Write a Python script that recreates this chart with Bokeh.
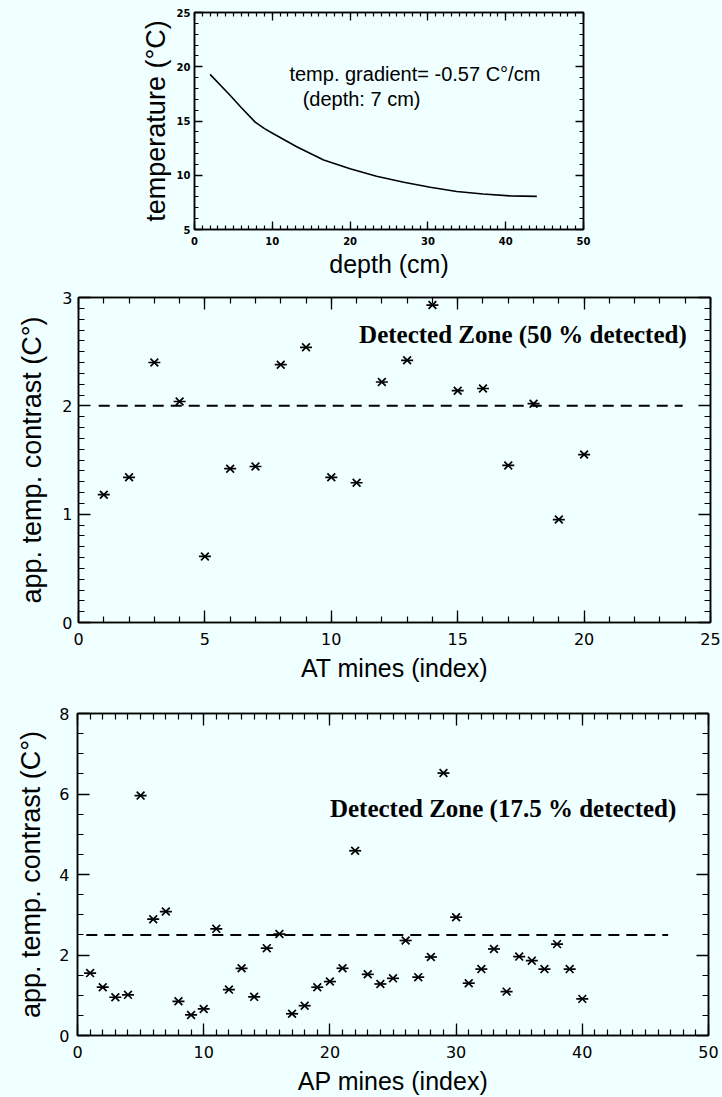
from bokeh.plotting import figure
from bokeh.models import Range1d, LinearAxis, SingleIntervalTicker, CustomJSTickFormatter
from bokeh.core.properties import value
from bokeh.embed import file_html
from bokeh.resources import INLINE

# ---------------- data ----------------
depth_cm = [2.0, 4.6, 6.0, 7.8, 9.0, 10.2, 13.2, 16.6, 20.0, 23.4, 26.9, 30.3, 33.7, 37.1, 40.6, 44.0]
temperature_c = [19.3, 17.35, 16.25, 14.9, 14.3, 13.8, 12.6, 11.4, 10.6, 9.9, 9.35, 8.9, 8.5, 8.27, 8.1, 8.05]

at_index = list(range(1, 21))
at_contrast = [1.18, 1.34, 2.40, 2.04, 0.61, 1.42, 1.44, 2.38, 2.54, 1.34,
               1.29, 2.22, 2.42, 2.93, 2.14, 2.16, 1.45, 2.02, 0.95, 1.55]
at_threshold_x = [0.8, 23.9]
at_threshold_y = [2.0, 2.0]

ap_index = list(range(1, 41))
ap_contrast = [1.55, 1.20, 0.95, 1.01, 5.96, 2.89, 3.08, 0.85, 0.51, 0.66,
               2.65, 1.14, 1.67, 0.96, 2.17, 2.52, 0.54, 0.74, 1.20, 1.34,
               1.67, 4.59, 1.52, 1.28, 1.42, 2.36, 1.45, 1.95, 6.52, 2.94,
               1.30, 1.65, 2.15, 1.09, 1.96, 1.86, 1.65, 2.27, 1.65, 0.91]
ap_threshold_x = [0.7, 46.8]
ap_threshold_y = [2.5, 2.5]

top_note = ["temp. gradient= -0.57 C\u00b0/cm", "(depth: 7 cm)"]
at_note = "Detected Zone (50 % detected)"
ap_note = "Detected Zone (17.5 % detected)"

BG = "#F0FFFF"
SANS = "Liberation Sans"
TICKFONT = "DejaVu Sans"
SERIF = "Liberation Serif"


def make_fig(xr, yr, xint, xminor, yint, yminor, frame_w, frame_h,
             left, right, top, bottom, xlabel, ylabel,
             tick_font_size, tick_bold, xlab_size, ylab_size,
             x_std, x_lab_std, y_std, y_lab_std, major_len, minor_len):
    p = figure(width=frame_w + left + right, height=frame_h + top + bottom,
               x_range=Range1d(*xr), y_range=Range1d(*yr),
               output_backend="svg", toolbar_location=None,
               x_axis_location=None, y_axis_location=None,
               min_border_left=left, min_border_right=right,
               min_border_top=top, min_border_bottom=bottom,
               background_fill_color=BG, border_fill_color=BG)
    p.grid.visible = False
    p.outline_line_color = "black"
    p.outline_line_width = 1.5
    for loc, is_x in (("below", True), ("above", True), ("left", False), ("right", False)):
        tk = SingleIntervalTicker(interval=xint if is_x else yint,
                                  num_minor_ticks=xminor if is_x else yminor)
        ax = LinearAxis(ticker=tk)
        ax.axis_line_color = "black"
        ax.axis_line_width = 1.5
        ax.major_tick_line_color = "black"
        ax.minor_tick_line_color = "black"
        ax.major_tick_line_width = 1.3
        ax.minor_tick_line_width = 1.2
        ax.major_tick_in = major_len
        ax.major_tick_out = 0
        ax.minor_tick_in = minor_len
        ax.minor_tick_out = 0
        if loc in ("below", "left"):
            ax.major_label_text_font = TICKFONT
            ax.major_label_text_font_size = f"{tick_font_size}px"
            ax.major_label_text_font_style = "bold" if tick_bold else "normal"
            ax.major_label_text_color = "black"
            ax.axis_label = xlabel if is_x else ylabel
            ax.axis_label_text_font = SANS
            ax.axis_label_text_font_style = "normal"
            ax.axis_label_text_font_size = f"{xlab_size if is_x else ylab_size}px"
            ax.axis_label_text_color = "black"
            ax.major_label_standoff = x_std if is_x else y_std
            ax.axis_label_standoff = x_lab_std if is_x else y_lab_std
        else:
            ax.formatter = CustomJSTickFormatter(code="return ''")
            ax.major_label_standoff = 0
        p.add_layout(ax, loc)
    return p


# ---------------- top: temperature profile ----------------
p1 = make_fig((0, 50), (5, 25), 10, 10, 5, 5, 389, 217, 194, 139, 12, 51,
              "depth (cm)", "temperature (\u00b0C)", 10, True, 25, 27,
              7, 2, 4, 3, 8, 4)
p1.line(depth_cm, temperature_c, line_color="black", line_width=1.6)
p1.text(x=[12.2], y=[19.3], text=[top_note[0]], text_font=value(SANS),
        text_font_size="20px", text_baseline="middle", text_align="left", text_color="black")
p1.text(x=[13.9], y=[17.07], text=[top_note[1]], text_font=value(SANS),
        text_font_size="20px", text_baseline="middle", text_align="left", text_color="black")

# ---------------- middle: AT mines ----------------
p2 = make_fig((0, 25), (0, 3), 5, 5, 1, 10, 632, 325, 78, 12, 17, 78,
              "AT mines (index)", "app. temp. contrast (C\u00b0)", 16, False, 25, 27,
              10, 6, 6, 12, 12, 6)
p2.line(at_threshold_x, at_threshold_y, line_color="black", line_width=2, line_dash="11 7")
p2.scatter(at_index, at_contrast, marker="x", size=11, line_color="black", line_width=1.7)
p2.scatter(at_index, at_contrast, marker="dash", size=12, line_color="black", line_width=1.7)
p2.text(x=[11.1], y=[2.66], text=[at_note], text_font=value(SERIF), text_font_style="bold",
        text_font_size="25px", text_baseline="middle", text_align="left", text_color="black")

# ---------------- bottom: AP mines ----------------
p3 = make_fig((0, 50), (0, 8), 10, 10, 2, 4, 631, 323, 77, 14, 13, 61,
              "AP mines (index)", "app. temp. contrast (C\u00b0)", 16, False, 25, 27,
              10, 6, 8, 10, 12, 6)
p3.line(ap_threshold_x, ap_threshold_y, line_color="black", line_width=2, line_dash="11 7")
p3.scatter(ap_index, ap_contrast, marker="x", size=11, line_color="black", line_width=1.7)
p3.scatter(ap_index, ap_contrast, marker="dash", size=12, line_color="black", line_width=1.7)
p3.text(x=[20.0], y=[5.65], text=[ap_note], text_font=value(SERIF), text_font_style="bold",
        text_font_size="25px", text_baseline="middle", text_align="left", text_color="black")

html = file_html([p1, p2, p3], INLINE)
html = html.replace("<body>", f'<body style="margin:0;background:{BG};">')
open("out.html", "w").write(html)
